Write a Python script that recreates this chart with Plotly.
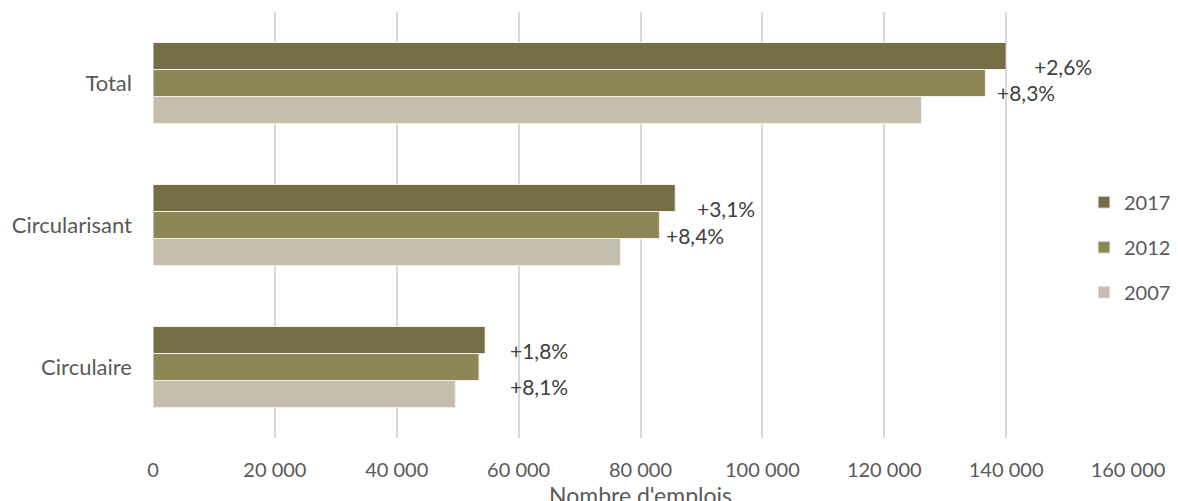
import plotly.graph_objects as go

categories = ["Circulaire", "Circularisant", "Total"]
years = ["2007", "2012", "2017"]
values = {
    "2007": [49600, 76700, 126100],
    "2012": [53500, 83100, 136600],
    "2017": [54500, 85700, 140000],
}
colors = {"2007": "#C4BEAE", "2012": "#8F8656", "2017": "#756D46"}
legend_rank = {"2017": 1, "2012": 2, "2007": 3}

# growth labels: 2012 vs 2007 and 2017 vs 2012
growth_12 = ["+8,1%", "+8,4%", "+8,3%"]
growth_17 = ["+1,8%", "+3,1%", "+2,6%"]
tick_vals = [0, 20000, 40000, 60000, 80000, 100000, 120000, 140000, 160000]
tick_text = ["0", "20 000", "40 000", "60 000", "80 000", "100 000", "120 000", "140 000", "160 000"]
x_title = "Nombre d'emplois"

font_family = "Lato, Open Sans, sans-serif"

fig = go.Figure()
for y in years:
    fig.add_trace(go.Bar(
        y=categories, x=values[y], name=y, orientation="h",
        marker=dict(color=colors[y], line=dict(color="#F2F0EA", width=1)),
        legendgroup=y, legendrank=legend_rank[y],
    ))

# annotation offsets (pixels)
shift17 = [(23, 17), (20, 17), (26, 17)]
shift12 = [(29, -19), (5, -10), (10, -9)]
for i, c in enumerate(categories):
    fig.add_annotation(x=values["2017"][i], y=c, text=growth_17[i], showarrow=False,
                       xanchor="left", yanchor="middle",
                       xshift=shift17[i][0], yshift=shift17[i][1],
                       font=dict(size=21, color="#404040", family=font_family))
    fig.add_annotation(x=values["2012"][i], y=c, text=growth_12[i], showarrow=False,
                       xanchor="left", yanchor="middle",
                       xshift=shift12[i][0], yshift=shift12[i][1],
                       font=dict(size=21, color="#404040", family=font_family))

# axis title as annotation below tick labels
fig.add_annotation(xref="paper", yref="paper", x=0.5, y=0, yshift=-57,
                   text=x_title, showarrow=False, xanchor="center", yanchor="middle",
                   font=dict(size=23, color="#595959", family=font_family))

fig.update_layout(
    width=1178, height=501,
    margin=dict(l=153, r=50, t=12, b=63, autoexpand=False),
    barmode="group", bargap=0.43, bargroupgap=0,
    plot_bgcolor="white", paper_bgcolor="white",
    font=dict(family=font_family, size=20, color="#595959"),
    legend=dict(xref="container", x=1084 / 1178, y=0.448, xanchor="left", yanchor="middle",
                traceorder="grouped", tracegroupgap=16,
                font=dict(size=20, color="#595959"), itemwidth=30),
    showlegend=True,
)
fig.update_xaxes(range=[0, 160000], tickvals=tick_vals, ticktext=tick_text,
                 showgrid=True, gridcolor="#D9D9D9", gridwidth=2,
                 zeroline=False, showline=False, ticks="",
                 ticklabelstandoff=18, tickfont=dict(size=20))
fig.update_yaxes(showgrid=False, ticks="", showline=False, ticklabelstandoff=20,
                 tickfont=dict(size=22))

fig.write_html("out.html")
